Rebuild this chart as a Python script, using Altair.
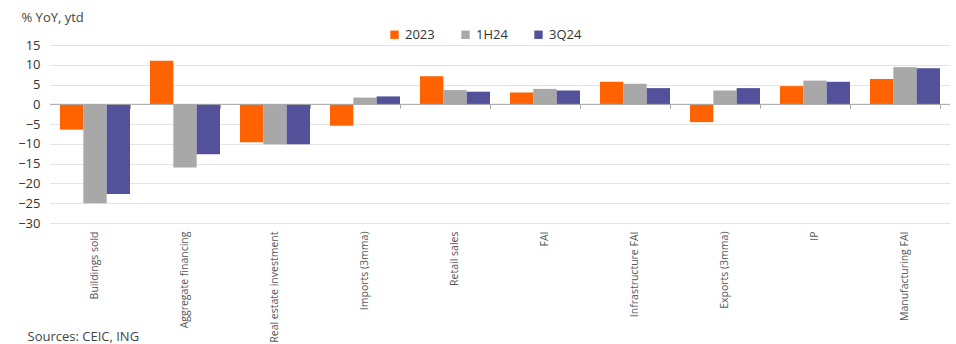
import altair as alt
import pandas as pd

categories = ["Buildings sold", "Aggregate financing", "Real estate investment",
              "Imports (3mma)", "Retail sales", "FAI", "Infrastructure FAI",
              "Exports (3mma)", "IP", "Manufacturing FAI"]
series = ["2023", "1H24", "3Q24"]
v2023 = [-6.4, 11.0, -9.6, -5.4, 7.1, 3.0, 5.7, -4.5, 4.6, 6.4]
v1h24 = [-25.0, -16.0, -10.1, 1.7, 3.6, 3.9, 5.2, 3.5, 6.0, 9.4]
v3q24 = [-22.7, -12.6, -10.1, 2.0, 3.2, 3.5, 4.1, 4.1, 5.7, 9.1]
colors = ["#FF6200", "#A8A8A8", "#525199"]
y_ticks = [15, 10, 5, 0, -5, -10, -15, -20, -25, -30]

rows = []
for s, vals in zip(series, [v2023, v1h24, v3q24]):
    for c, v in zip(categories, vals):
        rows.append({"category": c, "series": s, "value": v})
df = pd.DataFrame(rows)

FONT = "Open Sans"

xscale = alt.Scale(domain=categories, paddingInner=0.2222, paddingOuter=0.1111)
yscale = alt.Scale(domain=[-30, 15], nice=False)
yaxis = alt.Axis(title="% YoY, ytd", values=y_ticks, domain=False, ticks=False,
                 labelOverlap=False, labelFontSize=13, labelColor="#333333",
                 labelPadding=10, gridColor="#E3E3E3", gridWidth=1,
                 titleAngle=0, titleX=-29, titleY=-34, titleAlign="left",
                 titleBaseline="top", titleFontSize=13, titleFontWeight="normal",
                 titleColor="#444444", labelFont=FONT, titleFont=FONT)

bars = alt.Chart(df).mark_bar().encode(
    x=alt.X("category:N", scale=xscale, sort=categories,
            axis=alt.Axis(title="Sources: CEIC, ING", labelAngle=-90, labelAlign="right",
                          labelBaseline="middle", labelFontSize=10.5, labelColor="#555555",
                          labelPadding=8, ticks=False, domain=False, grid=False,
                          titleX=-23, titleY=117, titleAlign="left", titleBaseline="alphabetic",
                          titleFontSize=13, titleFontWeight="normal", titleColor="#444444",
                          labelFont=FONT, titleFont=FONT)),
    xOffset=alt.XOffset("series:N", sort=series, scale=alt.Scale(domain=series, paddingInner=0, paddingOuter=0)),
    y=alt.Y("value:Q", scale=yscale, axis=yaxis),
    color=alt.Color("series:N", sort=series,
                    scale=alt.Scale(domain=series, range=colors),
                    legend=alt.Legend(title=None, orient="none", direction="horizontal",
                                      legendX=338, legendY=-17, symbolType="square",
                                      symbolSize=70, symbolStrokeWidth=0, labelFontSize=13,
                                      labelColor="#333333", columnPadding=24, labelFont=FONT,
                                      labelOffset=4)),
)

# zero line across the whole plot
zero = alt.Chart(pd.DataFrame({"z": [0]})).mark_rule(
    color="#A6A6A6", strokeWidth=1
).encode(
    y=alt.Y("z:Q", scale=yscale, axis=yaxis),
)

# category boundary ticks sitting on the zero line (axis only, invisible points)
ticks = alt.Chart(pd.DataFrame({"category": categories, "z": [0] * len(categories)})).mark_point(
    opacity=0
).encode(
    x=alt.X("category:N", scale=xscale, sort=categories,
            axis=alt.Axis(title=None, labels=False, domain=False, ticks=True,
                          tickBand="extent", tickSize=4, tickColor="#A6A6A6",
                          grid=False, orient="bottom", offset=-118.7)),
    y=alt.Y("z:Q", scale=yscale, axis=yaxis),
)

chart = alt.layer(bars, zero, ticks).resolve_axis(x="independent").properties(
    width=900, height=178,
    padding={"left": 50, "top": 45, "right": 6, "bottom": 121},
    autosize=alt.AutoSizeParams(type="none"),
).configure(font=FONT).configure_view(stroke="transparent", strokeWidth=0)

chart.save("out.html", embed_options={"renderer": "svg", "actions": False})
